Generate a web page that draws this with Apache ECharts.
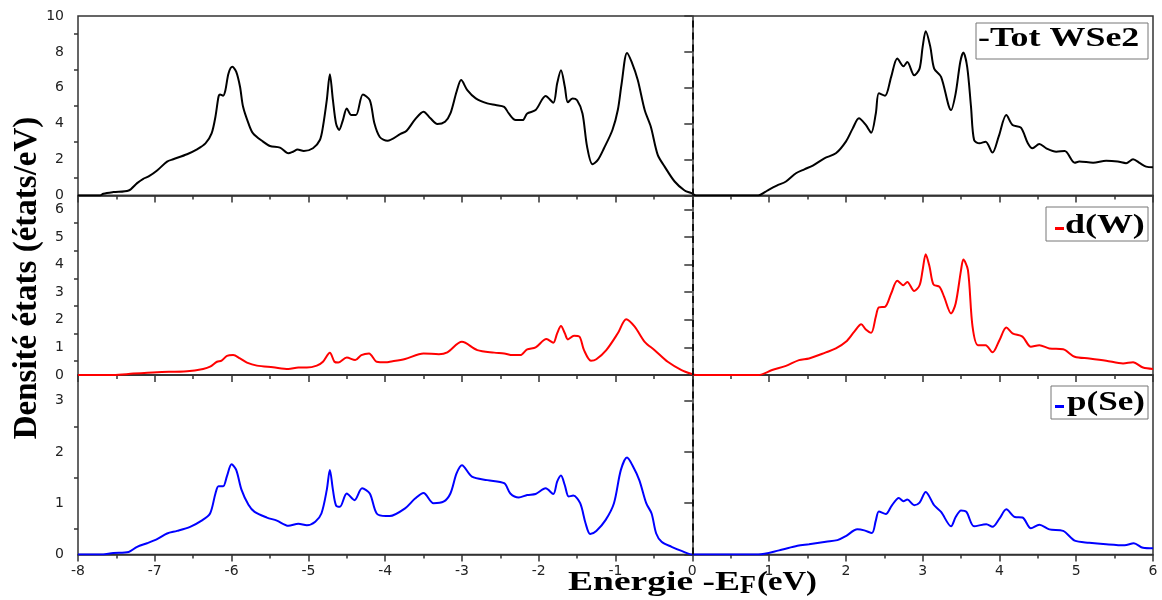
<!DOCTYPE html>
<html><head><meta charset="utf-8">
<script src="https://cdn.jsdelivr.net/npm/echarts@6/dist/echarts.min.js"></script>
<style>html,body{margin:0;padding:0;background:#fff}#c{width:1162px;height:600px}</style>
</head><body><div id="c"></div>
<script>
// ---- data (energy in eV, DOS in states/eV) ----
const totE = [-8,-7.71,-7.67,-7.54,-7.34,-7.23,-7.15,-7.08,-6.97,-6.84,-6.76,-6.58,-6.45,-6.34,-6.26,-6.21,-6.17,-6.15,-6.11,-6.08,-6.04,-5.99,-5.94,-5.89,-5.85,-5.78,-5.72,-5.59,-5.5,-5.37,-5.26,-5.2,-5.14,-5.06,-4.94,-4.85,-4.81,-4.76,-4.72,-4.68,-4.64,-4.6,-4.55,-4.5,-4.44,-4.38,-4.29,-4.2,-4.14,-4.07,-3.97,-3.8,-3.72,-3.61,-3.5,-3.41,-3.32,-3.22,-3.15,-3.07,-3.01,-2.93,-2.82,-2.67,-2.56,-2.45,-2.39,-2.3,-2.21,-2.15,-2.04,-1.91,-1.81,-1.76,-1.71,-1.66,-1.62,-1.56,-1.5,-1.43,-1.37,-1.3,-1.23,-1.15,-1.04,-0.97,-0.92,-0.85,-0.79,-0.71,-0.62,-0.54,-0.45,-0.36,-0.23,-0.1,-0.01,0.05,0.86,0.95,1.0,1.1,1.22,1.35,1.46,1.57,1.72,1.87,2.0,2.09,2.17,2.26,2.33,2.39,2.43,2.51,2.59,2.67,2.75,2.8,2.89,2.96,3.0,3.04,3.1,3.15,3.24,3.37,3.43,3.49,3.53,3.58,3.63,3.67,3.74,3.82,3.91,3.99,4.09,4.17,4.28,4.37,4.43,4.52,4.61,4.74,4.85,4.98,5.04,5.22,5.39,5.54,5.65,5.74,5.83,5.91,6.0];
const totDOS = [0,0,0.1,0.19,0.28,0.69,0.93,1.06,1.39,1.89,2.02,2.3,2.57,2.9,3.46,4.39,5.5,5.63,5.56,5.87,6.8,7.17,6.9,6.06,4.94,4.02,3.46,3.0,2.76,2.67,2.35,2.44,2.56,2.48,2.63,3.09,3.83,5.31,6.75,5.31,4.02,3.65,4.2,4.85,4.48,4.48,5.63,5.31,4.02,3.26,3.05,3.43,3.61,4.24,4.67,4.3,3.98,4.11,4.57,5.78,6.43,5.87,5.41,5.13,5.04,4.94,4.57,4.2,4.2,4.57,4.76,5.54,5.17,6.24,6.98,6.06,5.19,5.41,5.31,4.57,2.72,1.74,1.98,2.63,3.65,4.76,6.24,7.94,7.44,6.43,4.76,3.83,2.26,1.61,0.78,0.28,0.13,0,0,0.2,0.33,0.55,0.78,1.24,1.46,1.67,2.07,2.35,3.0,3.74,4.3,3.93,3.5,4.57,5.69,5.56,6.61,7.63,7.2,7.44,6.7,7.07,8.28,9.15,8.28,7.07,6.61,4.76,5.69,7.44,7.96,7.17,4.94,3.09,2.91,3.0,2.39,3.28,4.48,3.93,3.78,2.91,2.63,2.87,2.63,2.44,2.48,1.83,1.89,1.83,1.93,1.89,1.8,2.02,1.8,1.61,1.57];

const dE = [-8,-7.54,-7.28,-6.97,-6.58,-6.37,-6.28,-6.19,-6.13,-6.06,-5.98,-5.89,-5.8,-5.67,-5.46,-5.26,-5.13,-5.02,-4.89,-4.81,-4.72,-4.66,-4.61,-4.5,-4.39,-4.31,-4.21,-4.11,-3.99,-3.94,-3.74,-3.5,-3.3,-3.19,-3.0,-2.8,-2.58,-2.45,-2.34,-2.24,-2.15,-2.04,-1.9,-1.81,-1.76,-1.71,-1.66,-1.62,-1.54,-1.47,-1.41,-1.32,-1.25,-1.12,-0.97,-0.86,-0.75,-0.62,-0.49,-0.32,-0.14,-0.01,0.05,0.86,1.04,1.22,1.39,1.52,1.74,1.87,2.0,2.11,2.2,2.26,2.33,2.39,2.43,2.51,2.59,2.67,2.75,2.8,2.89,2.96,3.0,3.04,3.09,3.14,3.22,3.28,3.37,3.43,3.5,3.53,3.59,3.65,3.72,3.82,3.91,4.0,4.09,4.17,4.3,4.41,4.52,4.65,4.83,4.98,5.17,5.39,5.61,5.74,5.87,6.0];
const dDOS = [0,0,0.05,0.1,0.14,0.22,0.3,0.48,0.52,0.69,0.72,0.6,0.45,0.34,0.28,0.22,0.27,0.27,0.34,0.48,0.81,0.48,0.45,0.63,0.54,0.72,0.78,0.48,0.46,0.48,0.58,0.78,0.75,0.82,1.2,0.9,0.81,0.78,0.72,0.72,0.93,1.0,1.3,1.17,1.51,1.77,1.51,1.29,1.42,1.39,0.9,0.52,0.57,0.9,1.51,2.02,1.75,1.2,0.9,0.48,0.18,0.04,0,0,0.18,0.33,0.54,0.6,0.82,0.96,1.2,1.57,1.84,1.65,1.53,2.11,2.45,2.47,2.95,3.41,3.25,3.37,3.04,3.25,3.8,4.37,3.92,3.28,3.19,2.83,2.23,2.59,3.8,4.18,3.8,1.75,1.08,1.08,0.82,1.26,1.72,1.51,1.39,1.02,1.08,0.96,0.93,0.66,0.6,0.52,0.42,0.46,0.27,0.22];

const pE = [-8,-7.71,-7.54,-7.34,-7.23,-7.1,-6.97,-6.84,-6.71,-6.54,-6.39,-6.28,-6.21,-6.17,-6.11,-6.06,-6.0,-5.94,-5.87,-5.78,-5.7,-5.54,-5.41,-5.26,-5.13,-5.02,-4.91,-4.83,-4.76,-4.72,-4.68,-4.64,-4.59,-4.5,-4.4,-4.3,-4.2,-4.11,-3.99,-3.94,-3.74,-3.61,-3.5,-3.37,-3.24,-3.15,-3.07,-3.0,-2.87,-2.67,-2.45,-2.37,-2.26,-2.15,-2.04,-1.91,-1.81,-1.76,-1.71,-1.66,-1.61,-1.55,-1.46,-1.39,-1.33,-1.25,-1.13,-1.02,-0.93,-0.85,-0.78,-0.69,-0.6,-0.53,-0.47,-0.4,-0.27,-0.14,0,0.86,1.13,1.37,1.52,1.74,1.89,2.0,2.15,2.24,2.34,2.39,2.43,2.52,2.6,2.69,2.75,2.8,2.89,2.96,3.04,3.15,3.24,3.37,3.43,3.5,3.57,3.67,3.83,3.91,4.0,4.09,4.2,4.3,4.41,4.52,4.65,4.83,4.98,5.17,5.39,5.63,5.75,5.87,6.0];
const pDOS = [0,0,0.03,0.05,0.15,0.22,0.3,0.41,0.46,0.54,0.66,0.8,1.19,1.33,1.33,1.53,1.76,1.65,1.26,0.97,0.83,0.72,0.66,0.56,0.6,0.57,0.64,0.8,1.26,1.65,1.26,0.96,0.93,1.19,1.06,1.29,1.19,0.8,0.75,0.75,0.9,1.09,1.2,1.0,1.03,1.19,1.58,1.74,1.52,1.45,1.39,1.19,1.11,1.16,1.18,1.29,1.18,1.42,1.54,1.35,1.13,1.15,1.0,0.61,0.4,0.46,0.67,1.0,1.65,1.89,1.74,1.45,1.0,0.8,0.41,0.25,0.15,0.07,0,0,0.08,0.17,0.2,0.25,0.28,0.36,0.49,0.47,0.42,0.66,0.84,0.79,0.96,1.1,1.04,1.07,0.96,1.01,1.22,0.96,0.83,0.55,0.73,0.86,0.83,0.55,0.59,0.54,0.7,0.88,0.73,0.72,0.51,0.58,0.49,0.46,0.27,0.23,0.2,0.18,0.22,0.13,0.12];

const seriesNames = ['Tot WSe2', 'd(W)', 'p(Se)'];
const seriesColors = ['#000000', '#ff0000', '#0000ff'];
const xRange = [-8, 6];
const yMax = [10, 6.5, 3.5];
const yMajorTicks = [[0,2,4,6,8,10],[0,1,2,3,4,5,6],[0,1,2,3]];
const yMinorTicks = [[1,3,5,7,9],[0.5,1.5,2.5,3.5,4.5,5.5],[0.5,1.5,2.5]];
const xTitle = ['Energie -E', 'F', '(eV)'];
const yTitle = 'Densité états (états/eV)';

// ---- layout ----
const L = 78, R = 9, H = 179.5;
const tops = [16, 16 + H, 16 + 2 * H];
const axisColor = '#333';
const labelFont = {color: '#222', fontFamily: 'DejaVu Sans', fontSize: 14};
const serif = 'Liberation Serif';

const pair = (xs, ys) => xs.map((x, i) => [x, ys[i]]);
const sets = [pair(totE, totDOS), pair(dE, dDOS), pair(pE, pDOS)];

const grid = tops.map(t => ({left: L, right: R, top: t, height: H, show: true,
  borderColor: axisColor, borderWidth: 1.5, backgroundColor: 'transparent', containLabel: false}));

const xAxis = [0,1,2].map(i => ({
  type: 'value', gridIndex: i, min: xRange[0], max: xRange[1], interval: 1,
  axisLine: {show: true, onZero: false, lineStyle: {color: axisColor, width: 1.5}},
  axisTick: {show: true, inside: false, length: 7, lineStyle: {color: axisColor, width: 1.5}},
  minorTick: {show: true, splitNumber: 2, length: 4, lineStyle: {color: axisColor, width: 1.5}},
  splitLine: {show: false}, minorSplitLine: {show: false},
  axisLabel: Object.assign({show: i === 2, margin: 10}, labelFont)
}));

const yAxis = [];
[0,1,2].forEach(i => {
  yAxis.push({
    type: 'value', gridIndex: i, min: 0, max: yMax[i],
    axisLine: {show: true, lineStyle: {color: axisColor, width: 1.5}},
    axisTick: {show: true, length: 8, customValues: yMajorTicks[i], lineStyle: {color: axisColor, width: 1.5}},
    axisLabel: Object.assign({margin: 14, customValues: yMajorTicks[i]}, labelFont),
    splitLine: {show: false}
  });
  yAxis.push({
    type: 'value', gridIndex: i, min: 0, max: yMax[i], position: 'left',
    axisLine: {show: false},
    axisTick: {show: true, length: 4, customValues: yMinorTicks[i], lineStyle: {color: axisColor, width: 1.5}},
    axisLabel: {show: false, customValues: yMinorTicks[i]},
    splitLine: {show: false}
  });
});

const series = [0,1,2].map(i => ({
  name: seriesNames[i], type: 'line', xAxisIndex: i, yAxisIndex: 2 * i,
  data: sets[i], showSymbol: false, smooth: 0.3, z: 3,
  lineStyle: {color: seriesColors[i], width: 2}, itemStyle: {color: seriesColors[i]},
  markLine: {silent: true, symbol: ['none', 'none'], label: {show: false},
    lineStyle: {color: '#111', type: [7, 5], width: 2}, data: [{xAxis: 0}]}
}));

// legend boxes (text drawn as real text)
const legendBoxes = [
  {x: 976, y: 23, w: 172, h: 36, tx: 978, ty: 39, text: '-' + seriesNames[0], dash: false, sx: 1.33},
  {x: 1046, y: 207, w: 102, h: 34, tx: 1065, ty: 226, text: seriesNames[1], dash: true, dy: 227, sx: 1.33},
  {x: 1051, y: 386, w: 97, h: 33, tx: 1067, ty: 403, text: seriesNames[2], dash: true, dy: 405, sx: 1.3}
];
const graphic = [];
legendBoxes.forEach((b, i) => {
  graphic.push({type: 'rect', shape: {x: b.x, y: b.y, width: b.w, height: b.h},
    style: {fill: '#fff', stroke: '#777', lineWidth: 1}, z: 10});
  if (b.dash) graphic.push({type: 'rect', shape: {x: 1055, y: b.dy, width: 9, height: 3},
    style: {fill: seriesColors[i]}, z: 11});
  graphic.push({type: 'text', x: b.tx, y: b.ty, scaleX: b.sx, z: 11,
    style: {text: b.text, fill: '#000', fontFamily: serif, fontWeight: 'bold', fontSize: 27,
      textAlign: 'left', textVerticalAlign: 'middle', verticalAlign: 'middle'}});
});
// axis titles
graphic.push({type: 'text', x: 568, y: 583, scaleX: 1.39, z: 11,
  style: {text: xTitle[0], fill: '#000', fontFamily: serif, fontWeight: 'bold', fontSize: 27, textAlign: 'left', verticalAlign: 'middle', textVerticalAlign: 'middle'}});
graphic.push({type: 'text', x: 740, y: 586, scaleX: 1.0, z: 11,
  style: {text: xTitle[1], fill: '#000', fontFamily: serif, fontWeight: 'bold', fontSize: 26, textAlign: 'left', verticalAlign: 'middle', textVerticalAlign: 'middle'}});
graphic.push({type: 'text', x: 757, y: 583, scaleX: 1.21, z: 11,
  style: {text: xTitle[2], fill: '#000', fontFamily: serif, fontWeight: 'bold', fontSize: 27, textAlign: 'left', verticalAlign: 'middle', textVerticalAlign: 'middle'}});
graphic.push({type: 'text', x: 27, y: 278, rotation: Math.PI / 2, z: 11,
  style: {text: yTitle, fill: '#000', fontFamily: serif, fontWeight: 'bold', fontSize: 33, textAlign: 'center', verticalAlign: 'middle', textVerticalAlign: 'middle'}});

const chart = echarts.init(document.getElementById('c'), null, {renderer: 'canvas'});
chart.setOption({animation: false, backgroundColor: '#fff', grid, xAxis, yAxis, series, graphic});
</script>
</body></html>
